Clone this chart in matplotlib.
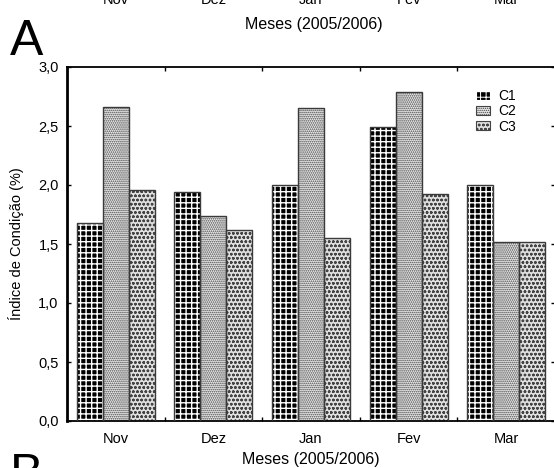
import numpy as np
import matplotlib
matplotlib.use("Agg")
import matplotlib.pyplot as plt
import matplotlib.transforms as mtransforms

plt.rcParams["font.family"] = ["Liberation Sans", "DejaVu Sans"]

# Condition index by month and class
months = ["Nov", "Dez", "Jan", "Fev", "Mar"]
classes = ["C1", "C2", "C3"]
c1 = [1.68, 1.94, 2.00, 2.49, 2.00]
c2 = [2.66, 1.735, 2.65, 2.785, 1.52]
c3 = [1.96, 1.62, 1.555, 1.92, 1.515]
yticks = [0.0, 0.5, 1.0, 1.5, 2.0, 2.5, 3.0]

# fill, hatch, hatch colour, hatch width per class
styles = [
    ("black", "+++", "white", 1.0),
    ("#ececec", "........", "#444444", 0.8),
    ("#e0e0e0", "oooo", "#444444", 0.7),
]

fig = plt.figure(figsize=(5.54, 4.68), dpi=100)
ax = fig.add_axes([67 / 554, 1 - 421 / 468, 488 / 554, 354 / 468])

x = np.arange(len(months))
width = 0.8 / 3
handles = []
for i, (vals, (fc, hatch, hc, hlw)) in enumerate(zip([c1, c2, c3], styles)):
    plt.rcParams["hatch.linewidth"] = hlw
    pos = x + (i - 1) * width
    b = ax.bar(pos, vals, width, color=fc, hatch=hatch, edgecolor=hc,
               linewidth=0, label=classes[i], zorder=2)
    ax.bar(pos, vals, width, fill=False, edgecolor="#3a3a3a",
           linewidth=1.0, zorder=3)
    handles.append(b)

ax.set_xlim(-0.5, 4.5)
ax.set_ylim(0, 3.0)
ax.set_yticks(yticks)
ax.set_yticklabels([f"{v:.1f}".replace(".", ",") for v in yticks], fontsize=10.5)
ax.set_xticks(x)
ax.set_xticklabels(months, fontsize=10.5)
ax.set_xticks(x[:-1] + 0.5, minor=True)
ax.tick_params(axis="x", which="major", length=0, pad=8)
ax.tick_params(axis="x", which="minor", direction="in", length=3, width=1,
               top=True, bottom=True)
ax.tick_params(axis="y", direction="in", length=3, width=1, right=True, pad=6)
for side in ["left", "bottom", "top", "right"]:
    ax.spines[side].set_linewidth(1.3)
ax.spines["left"].set_linewidth(2)

ax.set_ylabel("Índice de Condição (%)", fontsize=10.5, labelpad=10)
ax.set_xlabel("Meses (2005/2006)", fontsize=11.5, labelpad=4)

leg = ax.legend(handles=handles, loc="upper left",
                bbox_to_anchor=(476 / 554, 1 - 89 / 468),
                bbox_transform=fig.transFigure, frameon=False, fontsize=10,
                handlelength=1.0, handleheight=0.6, handletextpad=0.6,
                labelspacing=0.1, borderpad=0, borderaxespad=0)
for p in leg.get_patches():
    p.set_linewidth(0.8)

# labels of the panel above, cut by the top edge
trans = mtransforms.blended_transform_factory(ax.transData, fig.transFigure)
for xi, m in zip(x, months):
    fig.text(xi, 1 - 3.5 / 468, m, transform=trans, ha="center",
             va="baseline", fontsize=10.5)
fig.text(314 / 554, 1 - 25 / 468, "Meses (2005/2006)", ha="center",
         va="center", fontsize=11.5)

fig.text(10 / 554, 1 - 55 / 468, "A", fontsize=36, va="baseline")
fig.text(10 / 554, 1 - 489 / 468, "B", fontsize=36, va="baseline")

fig.savefig("out.png", dpi=100)
